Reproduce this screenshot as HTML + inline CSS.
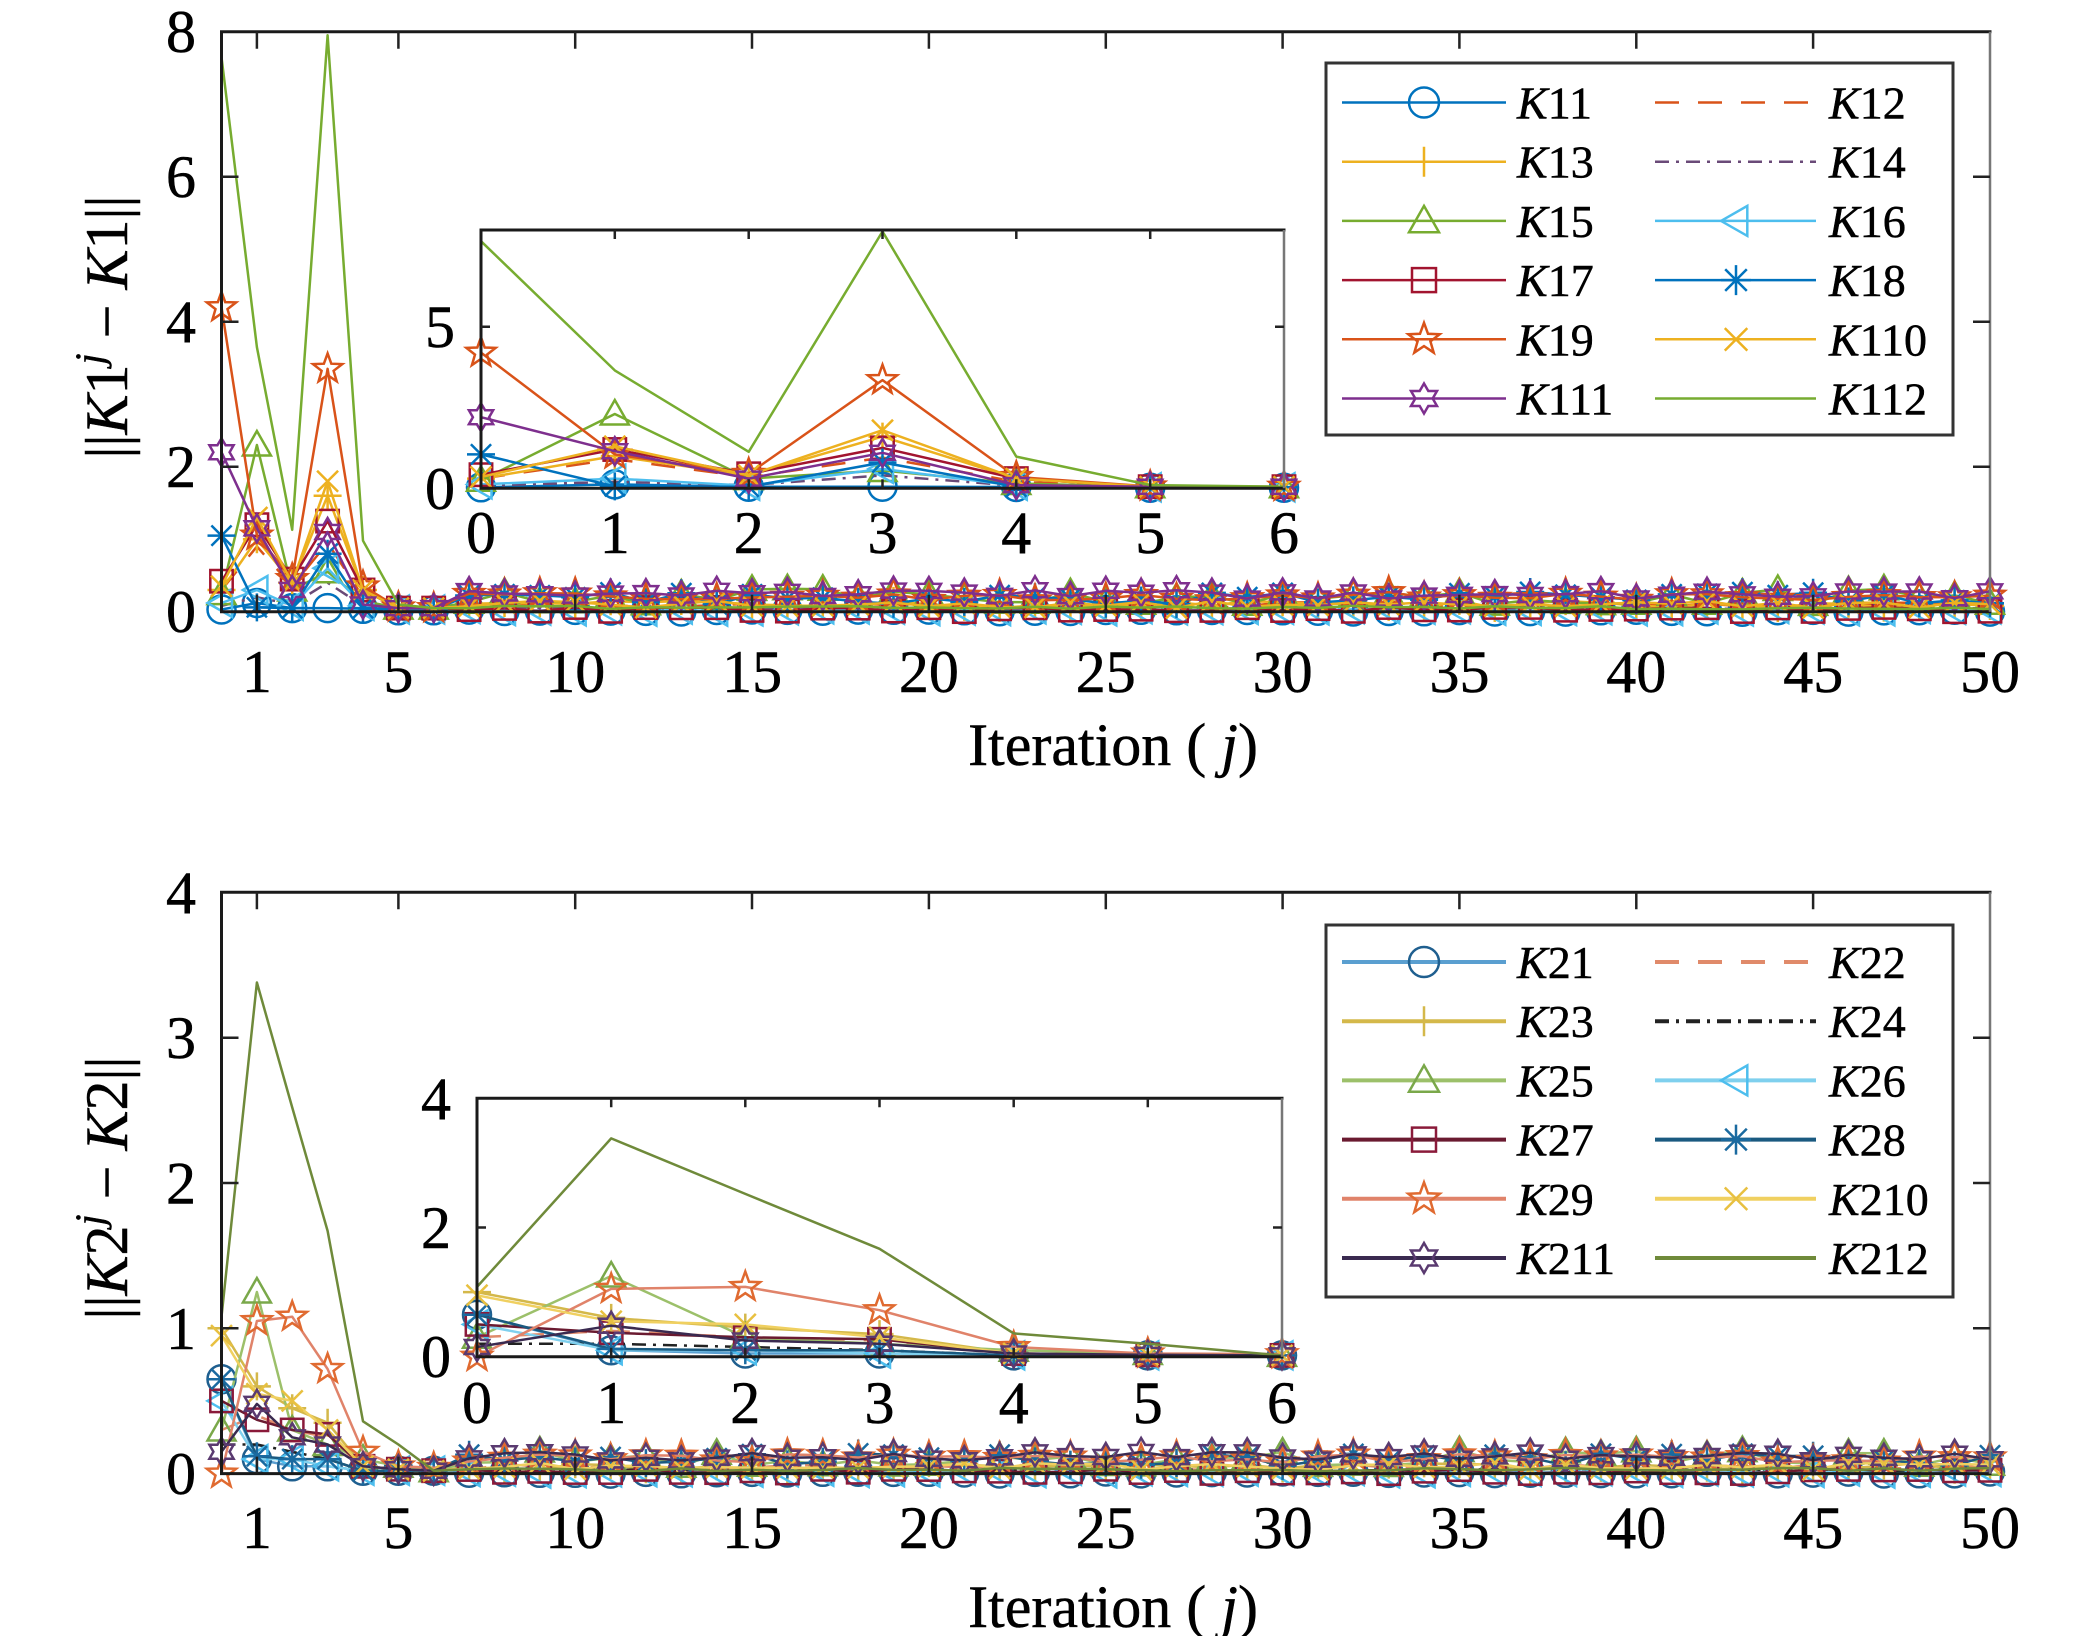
<!DOCTYPE html>
<html><head><meta charset="utf-8">
<style>
html,body{margin:0;padding:0;background:#fff;width:2079px;height:1636px;overflow:hidden;}
svg{display:block;}
text{font-family:"Liberation Serif","Times New Roman",serif;fill:#000;stroke:#000;stroke-width:0.5;}
</style></head><body>
<svg xmlns="http://www.w3.org/2000/svg" width="2079" height="1636" viewBox="0 0 2079 1636">
<rect width="2079" height="1636" fill="#fff"/>
<g id="d1"></g>
<g id="d2"></g>
<g id="ax"></g>
<rect x="481" y="230" width="803" height="258.3" fill="#fff"/>
<g id="i1"></g>
<rect x="477" y="1098.3" width="805" height="258.4" fill="#fff"/>
<g id="i2"></g>
<g id="iax"></g>
<rect x="1326" y="63" width="627" height="372" fill="#fff" stroke="#333" stroke-width="3"/>
<rect x="1326" y="925" width="627" height="372" fill="#fff" stroke="#333" stroke-width="3"/>
<g id="lg"></g>

<g font-size="60" text-anchor="end">
<text x="196" y="632">0</text><text x="196" y="487">2</text><text x="196" y="342">4</text><text x="196" y="197">6</text><text x="196" y="52">8</text>
<text x="196" y="1494">0</text><text x="196" y="1349">1</text><text x="196" y="1203.5">2</text><text x="196" y="1058">3</text><text x="196" y="913">4</text>
</g>
<g font-size="60" text-anchor="middle">
<text x="256.9" y="692">1</text><text x="398.4" y="692">5</text><text x="575.2" y="692">10</text><text x="752.1" y="692">15</text><text x="928.9" y="692">20</text><text x="1105.8" y="692">25</text><text x="1282.6" y="692">30</text><text x="1459.5" y="692">35</text><text x="1636.3" y="692">40</text><text x="1813.2" y="692">45</text><text x="1990" y="692">50</text>
<text x="256.9" y="1548">1</text><text x="398.4" y="1548">5</text><text x="575.2" y="1548">10</text><text x="752.1" y="1548">15</text><text x="928.9" y="1548">20</text><text x="1105.8" y="1548">25</text><text x="1282.6" y="1548">30</text><text x="1459.5" y="1548">35</text><text x="1636.3" y="1548">40</text><text x="1813.2" y="1548">45</text><text x="1990" y="1548">50</text>
<text x="481" y="553">0</text><text x="614.8" y="553">1</text><text x="748.7" y="553">2</text><text x="882.5" y="553">3</text><text x="1016.3" y="553">4</text><text x="1150.2" y="553">5</text><text x="1284" y="553">6</text>
<text x="477" y="1423">0</text><text x="611.2" y="1423">1</text><text x="745.3" y="1423">2</text><text x="879.5" y="1423">3</text><text x="1013.7" y="1423">4</text><text x="1147.8" y="1423">5</text><text x="1282" y="1423">6</text>
</g>
<g font-size="60" text-anchor="end">
<text x="455" y="347">5</text><text x="455" y="509">0</text>
<text x="451" y="1119">4</text><text x="451" y="1248">2</text><text x="451" y="1377">0</text>
</g>

<text x="1113" y="765" font-size="60" text-anchor="middle">Iteration ( <tspan font-style="italic">j</tspan>)</text>
<text x="1113" y="1627" font-size="60" text-anchor="middle">Iteration ( <tspan font-style="italic">j</tspan>)</text>
<text transform="translate(127,327) rotate(-90)" font-size="60" text-anchor="middle">||<tspan font-style="italic">K</tspan>1<tspan font-style="italic" font-size="40" dy="-24">j</tspan><tspan dy="24"> − </tspan><tspan font-style="italic">K</tspan>1||</text>
<text transform="translate(127,1188) rotate(-90)" font-size="60" text-anchor="middle">||<tspan font-style="italic">K</tspan>2<tspan font-style="italic" font-size="40" dy="-24">j</tspan><tspan dy="24"> − </tspan><tspan font-style="italic">K</tspan>2||</text>

<g font-size="46">
<text x="1517" y="118.5"><tspan font-style="italic">K</tspan>11</text>
<text x="1517" y="177.7"><tspan font-style="italic">K</tspan>13</text>
<text x="1517" y="236.9"><tspan font-style="italic">K</tspan>15</text>
<text x="1517" y="296.1"><tspan font-style="italic">K</tspan>17</text>
<text x="1517" y="355.3"><tspan font-style="italic">K</tspan>19</text>
<text x="1517" y="414.5"><tspan font-style="italic">K</tspan>111</text>
<text x="1829" y="118.5"><tspan font-style="italic">K</tspan>12</text>
<text x="1829" y="177.7"><tspan font-style="italic">K</tspan>14</text>
<text x="1829" y="236.9"><tspan font-style="italic">K</tspan>16</text>
<text x="1829" y="296.1"><tspan font-style="italic">K</tspan>18</text>
<text x="1829" y="355.3"><tspan font-style="italic">K</tspan>110</text>
<text x="1829" y="414.5"><tspan font-style="italic">K</tspan>112</text>

<text x="1517" y="978"><tspan font-style="italic">K</tspan>21</text>
<text x="1517" y="1037.2"><tspan font-style="italic">K</tspan>23</text>
<text x="1517" y="1096.4"><tspan font-style="italic">K</tspan>25</text>
<text x="1517" y="1155.6"><tspan font-style="italic">K</tspan>27</text>
<text x="1517" y="1214.8"><tspan font-style="italic">K</tspan>29</text>
<text x="1517" y="1274"><tspan font-style="italic">K</tspan>211</text>
<text x="1829" y="978"><tspan font-style="italic">K</tspan>22</text>
<text x="1829" y="1037.2"><tspan font-style="italic">K</tspan>24</text>
<text x="1829" y="1096.4"><tspan font-style="italic">K</tspan>26</text>
<text x="1829" y="1155.6"><tspan font-style="italic">K</tspan>28</text>
<text x="1829" y="1214.8"><tspan font-style="italic">K</tspan>210</text>
<text x="1829" y="1274"><tspan font-style="italic">K</tspan>212</text>
</g>
</svg>
<script>
(function(){
function rnd(a){return function(){a|=0;a=a+0x6D2B79F5|0;var t=Math.imul(a^a>>>15,1|a);t=t+Math.imul(t^t>>>7,61|t)^t;return((t^t>>>14)>>>0)/4294967296;};}
function f(v){return v.toFixed(1);}
function star(x,y,n,ro,ri){var p=[];for(var k=0;k<2*n;k++){var a=-Math.PI/2+k*Math.PI/n;var r=k%2?ri:ro;p.push(f(x+r*Math.cos(a))+','+f(y+r*Math.sin(a)));}return '<polygon points="'+p.join(' ')+'"/>';}
function mk(t,x,y,s){
 var a;
 switch(t){
 case 'o':return '<circle cx="'+f(x)+'" cy="'+f(y)+'" r="'+s+'"/>';
 case '+':return '<path d="M'+f(x-s)+' '+f(y)+'H'+f(x+s)+'M'+f(x)+' '+f(y-s)+'V'+f(y+s)+'"/>';
 case 'x':a=s*0.75;return '<path d="M'+f(x-a)+' '+f(y-a)+'L'+f(x+a)+' '+f(y+a)+'M'+f(x-a)+' '+f(y+a)+'L'+f(x+a)+' '+f(y-a)+'"/>';
 case '*':a=s*0.72;return '<path d="M'+f(x-s)+' '+f(y)+'H'+f(x+s)+'M'+f(x)+' '+f(y-s)+'V'+f(y+s)+'M'+f(x-a)+' '+f(y-a)+'L'+f(x+a)+' '+f(y+a)+'M'+f(x-a)+' '+f(y+a)+'L'+f(x+a)+' '+f(y-a)+'"/>';
 case '^':return '<polygon points="'+f(x)+','+f(y-s)+' '+f(x+s)+','+f(y+s*0.75)+' '+f(x-s)+','+f(y+s*0.75)+'"/>';
 case '<':return '<polygon points="'+f(x-s)+','+f(y)+' '+f(x+s*0.75)+','+f(y-s)+' '+f(x+s*0.75)+','+f(y+s)+'"/>';
 case 's':a=s*0.8;return '<rect x="'+f(x-a)+'" y="'+f(y-a)+'" width="'+f(2*a)+'" height="'+f(2*a)+'"/>';
 case 'p':return star(x,y,5,s*1.1,s*0.45);
 case 'h':return star(x,y,6,s,s*0.58);
 }
 return '';
}
var S1=[
 {c:'#0072BD',m:'o'},{c:'#D95319',m:'',d:'24 19'},{c:'#EDB120',m:'+'},{c:'#6a4a78',m:'',d:'14 7 3 7'},
 {c:'#77AC30',m:'^'},{c:'#4DBEEE',m:'<'},{c:'#A2142F',m:'s'},{c:'#0072BD',m:'*'},
 {c:'#D95319',m:'p'},{c:'#EDB120',m:'x'},{c:'#7E2F8E',m:'h'},{c:'#77AC30',m:''}];
var S2=[
 {c:'#5a9fd0',mc:'#1f5f8f',m:'o'},{c:'#e08a6a',m:'',d:'24 19'},{c:'#d4b84a',m:'+'},{c:'#222',m:'',d:'14 7 3 7'},
 {c:'#9cc06a',mc:'#7aa84a',m:'^'},{c:'#7fd0ee',mc:'#4DBEEE',m:'<'},{c:'#6a1a30',mc:'#8a1a3a',m:'s'},{c:'#1a5a80',mc:'#1a6aa0',m:'*'},
 {c:'#e0836a',mc:'#e06a30',m:'p'},{c:'#f0d060',mc:'#e8c040',m:'x'},{c:'#3a2a50',mc:'#5a3a70',m:'h'},{c:'#6f8a3a',m:''}];
var E1=[
 [0.03,0.12,0.05,0.05,0.04,0.02,0.02],
 [0.3,0.9,0.35,0.95,0.2,0.05,0.04],
 [0.3,1.0,0.4,1.6,0.3,0.05,0.04],
 [0.08,0.2,0.1,0.4,0.08,0.03,0.02],
 [0.25,2.3,0.3,0.55,0.15,0.05,0.05],
 [0.12,0.3,0.08,0.6,0.08,0.03,0.03],
 [0.42,1.2,0.45,1.25,0.3,0.05,0.05],
 [1.05,0.06,0.05,0.8,0.05,0.03,0.03],
 [4.2,1.05,0.45,3.35,0.35,0.06,0.05],
 [0.35,1.3,0.4,1.8,0.3,0.05,0.05],
 [2.2,1.15,0.3,1.1,0.1,0.05,0.05],
 [7.65,3.65,1.13,7.95,0.98,0.1,0.05]];
var E2=[
 [0.65,0.1,0.05,0.05,0.02,0.02,0.02],
 [0.3,0.4,0.3,0.25,0.05,0.03,0.02],
 [1.0,0.6,0.45,0.35,0.05,0.03,0.02],
 [0.2,0.2,0.15,0.1,0.02,0.02,0.02],
 [0.3,1.25,0.3,0.2,0.1,0.05,0.02],
 [0.5,0.1,0.1,0.05,0.02,0.02,0.02],
 [0.5,0.37,0.3,0.27,0.05,0.03,0.02],
 [0.65,0.12,0.1,0.1,0.02,0.02,0.02],
 [0.0,1.05,1.08,0.72,0.15,0.05,0.04],
 [0.95,0.55,0.5,0.3,0.05,0.03,0.02],
 [0.15,0.48,0.25,0.2,0.05,0.03,0.02],
 [1.08,3.38,2.52,1.67,0.36,0.2,0.02]];
var P=[[0,0.03],[0.05,0.08],[0.05,0.1],[0.02,0.04],[0.1,0.22],[0,0.04],[0,0.06],[0.1,0.18],[0.15,0.12],[0.05,0.1],[0.18,0.12],[0.03,0.05]];
function gen(E,seed,sc){var r=rnd(seed);return E.map(function(e,i){var a=e.slice();for(var k=7;k<=50;k++){a.push((P[i][0]+P[i][1]*r())*sc);}return a;});}
var D1=gen(E1,12345,1),D2=gen(E2,67890,0.5);
function plot(id,ser,data,X,Y,n,s){
 var h='';
 ser.forEach(function(S,i){
  var pts=[];for(var k=0;k<=n;k++)pts.push(f(X(k))+','+f(Y(data[i][k])));
  h+='<polyline points="'+pts.join(' ')+'" fill="none" stroke="'+S.c+'" stroke-width="2.5"'+(S.d?' stroke-dasharray="'+S.d+'"':'')+' stroke-linejoin="round"/>';
  if(S.m){h+='<g fill="none" stroke="'+(S.mc||S.c)+'" stroke-width="2.5">';for(var k2=0;k2<=n;k2++)h+=mk(S.m,X(k2),Y(data[i][k2]),s);h+='</g>';}
 });
 document.getElementById(id).innerHTML=h;
}
var X1=function(v){return 221.5+35.37*v;},Y1=function(v){return 611.7-72.5*v;},Y2=function(v){return 1473.6-145.3*v;};
var XI1=function(v){return 481+133.83*v;},YI1=function(v){return 488.3-32.3*v;};
var XI2=function(v){return 477+134.17*v;},YI2=function(v){return 1356.7-64.6*v;};
plot('d1',S1,D1,X1,Y1,50,14);
plot('d2',S2,D2,X1,Y2,50,14);
plot('i1',S1,D1,XI1,YI1,6,14);
plot('i2',S2,D2,XI2,YI2,6,14);
function axes(x0,y0,x1,y1,xs,ys,tl,sw){
 var h='<path d="M'+x0+' '+y1+'V'+y0+'H'+x1+'M'+x0+' '+y1+'H'+x1+'" fill="none" stroke="#1a1a1a" stroke-width="'+sw+'" stroke-linecap="square"/>';
 h+='<path d="M'+x1+' '+y0+'V'+y1+'" stroke="#777" stroke-width="'+(sw-0.5)+'"/>';
 var t='';
 xs.forEach(function(x){t+='M'+f(x)+' '+y0+'v'+tl+'M'+f(x)+' '+y1+'v'+(-tl);});
 ys.forEach(function(y){t+='M'+x0+' '+f(y)+'h'+tl+'M'+x1+' '+f(y)+'h'+(-tl);});
 h+='<path d="'+t+'" stroke="#222" stroke-width="2.5"/>';
 return h;
}
var xt=[1,5,10,15,20,25,30,35,40,45].map(X1);
var ax=axes(221.5,31.7,1990,611.7,xt,[2,4,6].map(Y1),17,3);
ax+=axes(221.5,892.3,1990,1473.6,xt,[1,2,3].map(Y2),17,3);
document.getElementById('ax').innerHTML=ax;
var iax=axes(481,230,1284,488.3,[1,2,3,4,5].map(XI1),[5].map(YI1),9,3);
iax+=axes(477,1098.3,1282,1356.7,[1,2,3,4,5].map(XI2),[2].map(YI2),9,3);
document.getElementById('iax').innerHTML=iax;
function legend(y0,ser,w){
 var h='';
 for(var r=0;r<6;r++){
  var y=y0+59.2*r;
  [[ser[2*r],1342,1506,1424],[ser[2*r+1],1655,1816,1736]].forEach(function(c){
   var S=c[0];
   h+='<line x1="'+c[1]+'" y1="'+f(y)+'" x2="'+c[2]+'" y2="'+f(y)+'" stroke="'+S.c+'" stroke-width="'+w+'"'+(S.d?' stroke-dasharray="'+S.d+'"':'')+'/>';
   if(S.m)h+='<g fill="none" stroke="'+(S.mc||S.c)+'" stroke-width="2.5">'+mk(S.m,c[3],y,15)+'</g>';
  });
 }
 return h;
}
document.getElementById('lg').innerHTML=legend(102.5,S1,2.5)+legend(962,S2,4);
})();
</script>
</body></html>
